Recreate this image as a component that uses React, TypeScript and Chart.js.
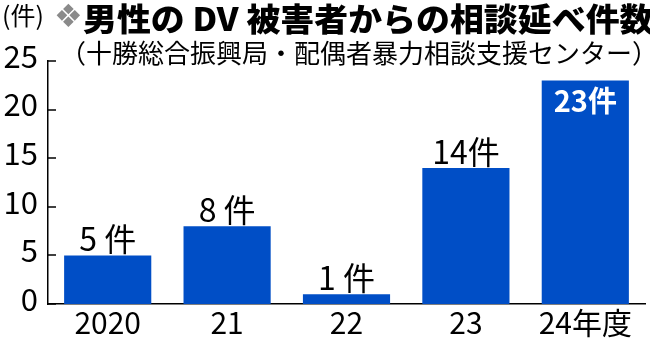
import React, { useEffect, useRef } from "react";
import { Chart, registerables } from "chart.js";
Chart.register(...registerables);

const categories = ["2020", "21", "22", "23", "24年度"];
const values = [5, 8, 1, 14, 23];
const yTicks = [0, 5, 10, 15, 20, 25];
const unitLabel = "件";
const titleUnit = "(件)";
const titleMark = "❖";
const titleText = "男性の DV 被害者からの相談延べ件数";
const sourceText = "（十勝総合振興局・配偶者暴力相談支援センター）";

const BAR = "#004ec6";
const JP = "'Noto Sans CJK JP', 'Noto Sans', sans-serif";

export default function App() {
  const ref = useRef<HTMLCanvasElement>(null);
  useEffect(() => {
    document.body.style.margin = "0";
    const canvas = ref.current!;
    const inwardTicks = {
      id: "inwardTicks",
      afterDraw(chart: any) {
        const { ctx, chartArea, scales } = chart;
        const y = scales.y;
        ctx.save();
        ctx.strokeStyle = "#000";
        ctx.lineWidth = 1.5;
        yTicks.forEach((v) => {
          const py = Math.round(y.getPixelForValue(v));
          ctx.beginPath();
          ctx.moveTo(chartArea.left, py);
          ctx.lineTo(chartArea.left + 8, py);
          ctx.stroke();
        });
        ctx.restore();
      },
    };
    const barLabels = {
      id: "barLabels",
      afterDatasetsDraw(chart: any) {
        const { ctx, chartArea } = chart;
        const meta = chart.getDatasetMeta(0);
        ctx.save();
        ctx.textAlign = "center";
        ctx.textBaseline = "alphabetic";
        meta.data.forEach((el: any, i: number) => {
          const v = values[i];
          const text = v < 10 ? `${v} ${unitLabel}` : `${v}${unitLabel}`;
          const p = el.getProps(["x", "y"], true);
          if (p.y - 40 < chartArea.top) {
            ctx.fillStyle = "#fff";
            ctx.font = `bold 29px ${JP}`;
            ctx.fillText(text, p.x, p.y + 32);
          } else {
            ctx.fillStyle = "#000";
            ctx.font = `32px ${JP}`;
            ctx.fillText(text, p.x, p.y - 4);
          }
        });
        ctx.restore();
      },
    };
    const chart = new Chart(canvas, {
      type: "bar",
      data: {
        labels: categories,
        datasets: [
          {
            data: values,
            backgroundColor: BAR,
            barPercentage: 0.73,
            categoryPercentage: 1,
          },
        ],
      },
      options: {
        responsive: false,
        animation: false,
        devicePixelRatio: 1,
        layout: { padding: { top: 61, right: 5, left: 0, bottom: 0 } },
        plugins: {
          legend: { display: false },
          tooltip: { enabled: false },
          title: { display: false },
        },
        scales: {
          x: {
            grid: { display: false, drawTicks: false },
            border: { display: true, color: "#000", width: 1.5 },
            ticks: {
              font: { family: JP, size: 30 },
              color: "#000",
              padding: 1,
              maxRotation: 0,
              autoSkip: false,
            },
            afterFit(s: any) {
              s.height = 34;
            },
          },
          y: {
            min: 0,
            max: 25,
            afterBuildTicks(s: any) {
              s.ticks = yTicks.map((v) => ({ value: v }));
            },
            grid: { display: false, drawTicks: false },
            border: { display: true, color: "#000", width: 1.5 },
            ticks: {
              font: { family: JP, size: 31 },
              color: "#000",
              padding: 10,
              labelOffset: -5,
            },
            afterFit(s: any) {
              s.width = 48;
            },
          },
        },
      },
      plugins: [inwardTicks, barLabels],
    } as any);
    return () => chart.destroy();
  }, []);

  const abs: React.CSSProperties = {
    position: "absolute",
    whiteSpace: "nowrap",
    lineHeight: 1,
    fontFamily: JP,
    color: "#000",
  };
  return (
    <div style={{ position: "fixed", left: 0, top: 0, width: 650, height: 338, background: "#fff" }}>
      <canvas ref={ref} width={650} height={338} style={{ position: "absolute", left: 0, top: 0, width: 650, height: 338 }} />
      <div style={{ ...abs, left: 2, top: 2, fontSize: 25 }}>{titleUnit}</div>
      <div style={{ ...abs, left: 54, top: 0, fontSize: 32, color: "#8a8a8a", fontFamily: "'DejaVu Sans', sans-serif" }}>{titleMark}</div>
      <div style={{ ...abs, left: 83, top: 1, fontSize: 32, fontWeight: 900, transform: "scaleX(1.06)", transformOrigin: "left top" }}>{titleText}</div>
      <div style={{ ...abs, left: 60, top: 39, fontSize: 26 }}>{sourceText}</div>
    </div>
  );
}
